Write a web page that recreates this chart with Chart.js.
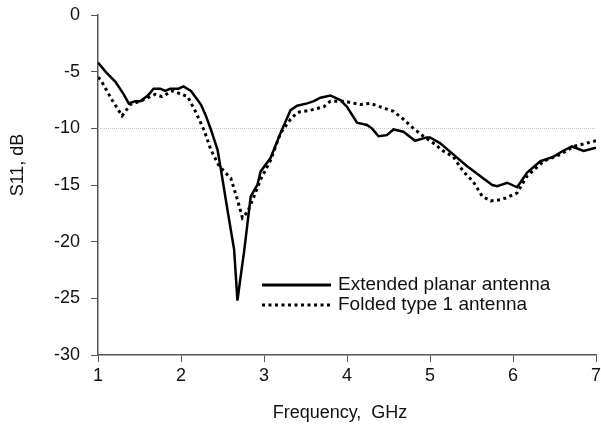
<!DOCTYPE html>
<html>
<head>
<meta charset="utf-8">
<script src="https://cdn.jsdelivr.net/npm/chart.js@4"></script>
<style>
  html, body { margin: 0; padding: 0; background: #fff; }
  #wrap { width: 601px; height: 429px; position: relative; }
</style>
</head>
<body>
<div id="wrap"><canvas id="chart"></canvas></div>
<script>
// Extended planar antenna
const freqExt = [1.0, 1.09, 1.21, 1.31, 1.37, 1.45, 1.51, 1.6, 1.67, 1.75, 1.81, 1.87, 1.97, 2.03, 2.12, 2.18, 2.24, 2.3, 2.36, 2.44, 2.48, 2.56, 2.64, 2.68, 2.72, 2.76, 2.84, 2.92, 2.96, 3.08, 3.2, 3.32, 3.4, 3.52, 3.6, 3.68, 3.8, 3.92, 4.0, 4.12, 4.24, 4.3, 4.38, 4.48, 4.56, 4.68, 4.82, 4.96, 5.0, 5.12, 5.28, 5.44, 5.64, 5.75, 5.81, 5.93, 6.05, 6.17, 6.33, 6.49, 6.6, 6.71, 6.85, 7.0];
const s11Ext  = [-4.2, -5.0, -5.9, -7.0, -7.8, -7.6, -7.6, -7.1, -6.5, -6.5, -6.7, -6.5, -6.5, -6.3, -6.7, -7.3, -7.9, -8.9, -10.1, -11.9, -13.6, -17.2, -20.7, -25.2, -23.0, -20.9, -16.0, -15.0, -13.8, -12.6, -10.4, -8.4, -8.0, -7.8, -7.6, -7.3, -7.1, -7.5, -8.1, -9.5, -9.7, -10.0, -10.7, -10.6, -10.1, -10.3, -11.1, -10.8, -10.8, -11.3, -12.3, -13.3, -14.4, -15.0, -15.1, -14.8, -15.2, -13.9, -12.9, -12.5, -12.0, -11.6, -12.0, -11.7];

// Folded type 1 antenna
const freqFold = [1.0, 1.03, 1.1, 1.17, 1.29, 1.34, 1.39, 1.51, 1.6, 1.69, 1.77, 1.9, 1.97, 2.08, 2.18, 2.28, 2.36, 2.45, 2.52, 2.6, 2.68, 2.74, 2.8, 2.88, 2.96, 3.08, 3.2, 3.32, 3.4, 3.56, 3.72, 3.8, 3.96, 4.16, 4.28, 4.44, 4.56, 4.68, 4.8, 4.92, 5.04, 5.16, 5.28, 5.4, 5.52, 5.63, 5.73, 5.85, 5.93, 6.05, 6.17, 6.37, 6.57, 6.73, 6.89, 7.0];
const s11Fold  = [-5.5, -5.7, -6.6, -7.5, -8.9, -8.4, -7.9, -7.6, -7.3, -7.0, -7.2, -6.7, -6.9, -7.2, -8.6, -10.2, -11.9, -13.2, -13.8, -14.4, -16.3, -17.9, -17.4, -16.0, -14.5, -12.8, -10.4, -9.2, -8.6, -8.4, -8.1, -7.6, -7.6, -7.9, -7.8, -8.2, -8.5, -9.2, -10.0, -10.7, -11.3, -12.0, -12.5, -13.8, -14.7, -16.0, -16.4, -16.3, -16.1, -15.7, -14.2, -12.9, -12.3, -11.6, -11.3, -11.1];

const seriesNames = ['Extended planar antenna', 'Folded type 1 antenna'];
const xTitle = 'Frequency,  GHz';
const yTitle = 'S11, dB';
const refLevel = -10;

const FONT = 'Arial, "Liberation Sans", sans-serif';
const pts = (xs, ys) => xs.map((x, i) => ({ x: x, y: ys[i] }));

// light dotted -10 dB line, axis titles and legend inside the plot
const extras = {
  id: 'extras',
  beforeDatasetsDraw(chart) {
    const { ctx, chartArea: a, scales: { y } } = chart;
    const py = Math.round(y.getPixelForValue(refLevel)) + 0.5;
    ctx.save();
    ctx.strokeStyle = '#c8c8c8';
    ctx.lineWidth = 1;
    ctx.setLineDash([1, 1]);
    ctx.beginPath(); ctx.moveTo(a.left, py); ctx.lineTo(a.right, py); ctx.stroke();
    ctx.restore();
  },
  afterDraw(chart) {
    const { ctx } = chart;
    ctx.save();
    ctx.fillStyle = '#111';
    ctx.font = '18px ' + FONT;
    ctx.textAlign = 'center';
    ctx.textBaseline = 'middle';
    ctx.fillText(xTitle, 340, 413);
    ctx.translate(18, 165);
    ctx.rotate(-Math.PI / 2);
    ctx.fillText(yTitle, 0, 0);
    ctx.restore();

    const rows = [{ y: 285, dash: [], w: 3 }, { y: 305, dash: [3, 3.5], w: 3 }];
    ctx.save();
    ctx.font = '19px ' + FONT;
    ctx.fillStyle = '#111';
    ctx.textBaseline = 'middle';
    rows.forEach((r, i) => {
      ctx.strokeStyle = '#000';
      ctx.lineWidth = r.w;
      ctx.lineCap = 'butt';
      ctx.setLineDash(r.dash);
      ctx.beginPath(); ctx.moveTo(262, r.y); ctx.lineTo(331, r.y); ctx.stroke();
      ctx.fillText(seriesNames[i], 338, r.y);
    });
    ctx.restore();
  }
};

new Chart(document.getElementById('chart'), {
  type: 'line',
  data: {
    datasets: [
      { label: seriesNames[0], data: pts(freqExt, s11Ext), borderColor: '#000', borderWidth: 2.5, pointRadius: 0, tension: 0, fill: false },
      { label: seriesNames[1], data: pts(freqFold, s11Fold), borderColor: '#000', borderWidth: 3, borderDash: [3, 3.5], borderCapStyle: 'butt', pointRadius: 0, tension: 0, fill: false }
    ]
  },
  options: {
    responsive: true,
    maintainAspectRatio: false,
    animation: false,
    layout: { padding: { top: 15, right: 5, left: 0, bottom: 0 } },
    plugins: { legend: { display: false }, tooltip: { enabled: false } },
    scales: {
      x: {
        type: 'linear', min: 1, max: 7,
        ticks: { stepSize: 1, color: '#111', font: { family: FONT, size: 18 }, padding: 3, maxRotation: 0 },
        grid: { drawOnChartArea: false, tickLength: 7, tickColor: '#555' },
        border: { color: '#555', width: 1.5 },
        afterFit(s) { s.height = 74; s.paddingRight = 0; s.paddingLeft = 0; }
      },
      y: {
        min: -30, max: 0,
        ticks: { stepSize: 5, color: '#111', font: { family: FONT, size: 18 }, padding: 11 },
        grid: { drawOnChartArea: false, tickLength: 7, tickColor: '#555' },
        border: { color: '#555', width: 1.5 },
        afterFit(s) { s.width = 98; s.paddingTop = 0; s.paddingBottom = 0; }
      }
    }
  },
  plugins: [extras]
});
</script>
</body>
</html>
